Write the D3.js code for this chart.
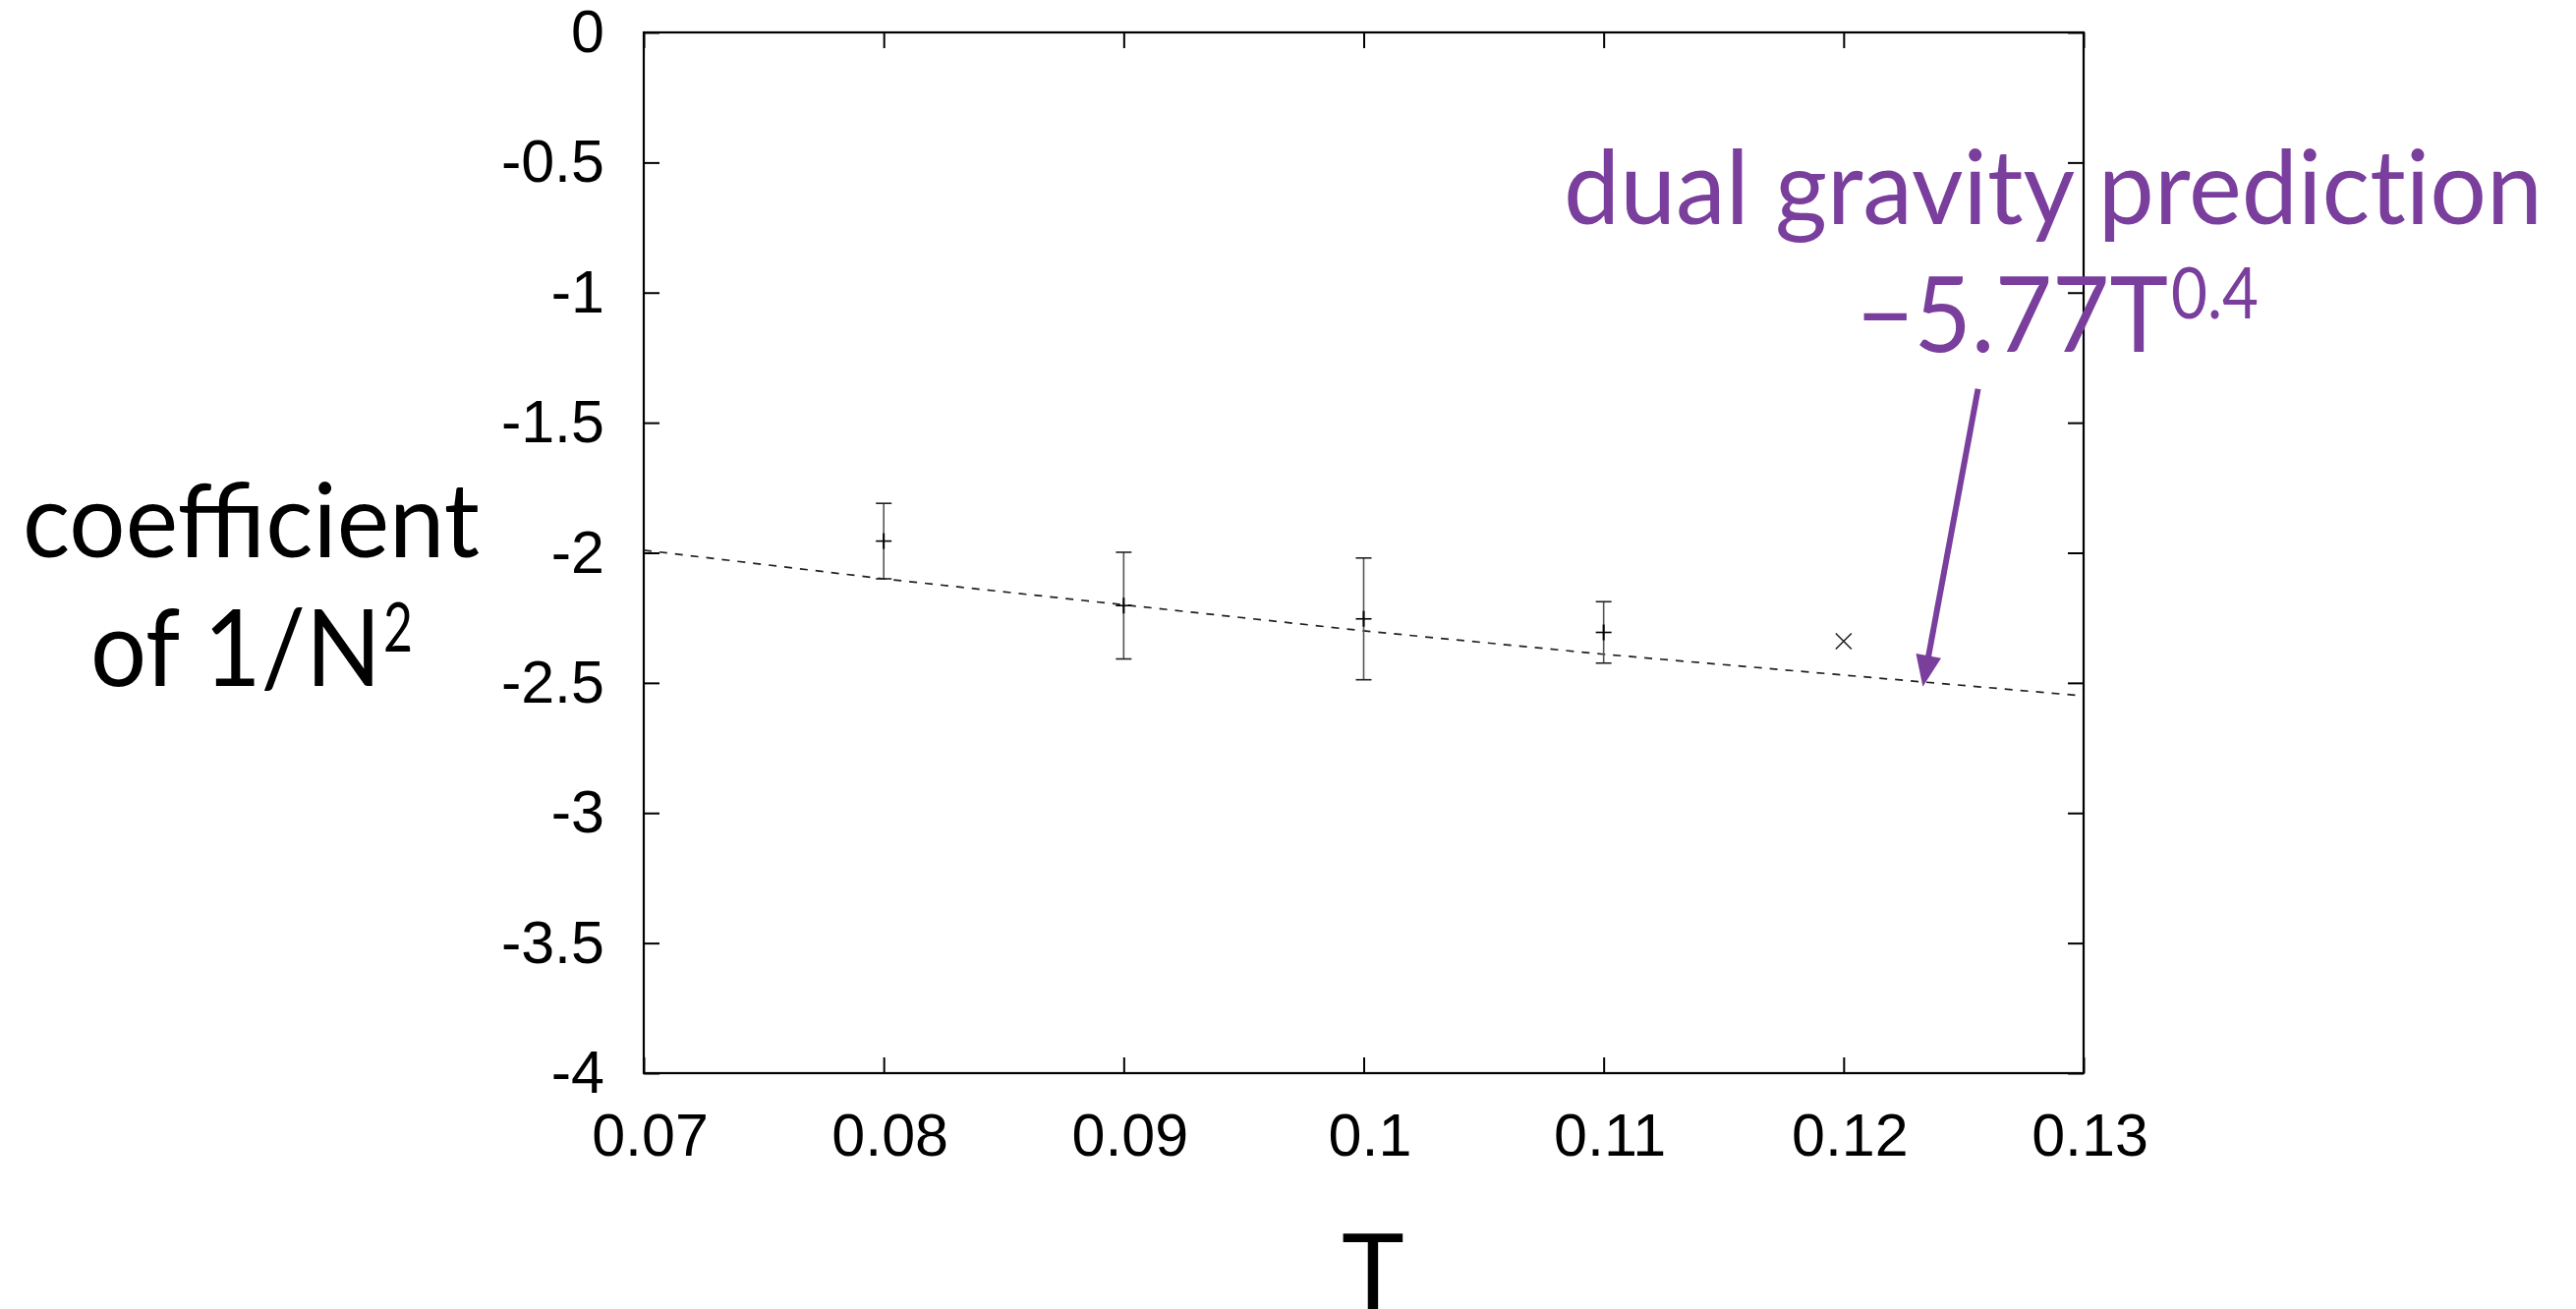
<!DOCTYPE html>
<html>
<head>
<meta charset="utf-8">
<script src="https://cdn.jsdelivr.net/npm/d3@7"></script>
<style>
  html, body { margin: 0; padding: 0; background: #ffffff; }
  svg { display: block; }
</style>
</head>
<body>
<svg id="chart"></svg>
<script>
// measured points (T, coefficient, half error bar)
const temps = [0.08, 0.09, 0.10, 0.11];
const coeffs = [-1.955, -2.203, -2.254, -2.306];
const errors = [0.145, 0.205, 0.234, 0.118];

// single point drawn as a cross
const crossT = [0.12];
const crossVal = [-2.34];

// dashed prediction curve
const curveT = [0.07, 0.08, 0.09, 0.10, 0.11, 0.12, 0.13];
const curveVal = [-1.99, -2.10, -2.20, -2.30, -2.39, -2.47, -2.55];

// arrow endpoints in data coordinates
const arrowT = [0.1256, 0.1233];
const arrowVal = [-1.37, -2.515];

const xTicks = [0.07, 0.08, 0.09, 0.1, 0.11, 0.12, 0.13];
const yTicks = [0, -0.5, -1, -1.5, -2, -2.5, -3, -3.5, -4];

const WIDTH = 2621;
const HEIGHT = 1332;
const LEFT = 655;
const RIGHT = 2120;
const TOP = 33;
const BOTTOM = 1092;
const TICK = 16;
const PURPLE = '#7a3e9d';
const TICK_FONT = '"Liberation Sans", Arial, sans-serif';
const LABEL_FONT = 'Lato, "Open Sans", sans-serif';

const svg = d3.select('#chart')
  .attr('width', WIDTH)
  .attr('height', HEIGHT)
  .attr('viewBox', `0 0 ${WIDTH} ${HEIGHT}`);

svg.append('rect')
  .attr('width', WIDTH)
  .attr('height', HEIGHT)
  .attr('fill', '#ffffff');

const x = d3.scaleLinear().domain([0.07, 0.13]).range([LEFT, RIGHT]);
const y = d3.scaleLinear().domain([-4, 0]).range([BOTTOM, TOP]);

// axes, ticks pointing into the plot on every side
const bottomAxis = svg.append('g')
  .attr('transform', `translate(0, ${BOTTOM})`)
  .call(d3.axisBottom(x).tickValues(xTicks).tickSize(-TICK).tickPadding(41)
    .tickFormat((d) => String(d)));

const leftAxis = svg.append('g')
  .attr('transform', `translate(${LEFT}, 0)`)
  .call(d3.axisLeft(y).tickValues(yTicks).tickSize(-TICK).tickPadding(40)
    .tickFormat((d) => String(d)));

const topAxis = svg.append('g')
  .attr('transform', `translate(0, ${TOP})`)
  .call(d3.axisTop(x).tickValues(xTicks).tickSize(-TICK).tickFormat(''));

const rightAxis = svg.append('g')
  .attr('transform', `translate(${RIGHT}, 0)`)
  .call(d3.axisRight(y).tickValues(yTicks).tickSize(-TICK).tickFormat(''));

[bottomAxis, leftAxis, topAxis, rightAxis].forEach((g) => {
  g.select('.domain').remove();
  g.selectAll('.tick line')
    .attr('stroke', '#000000')
    .attr('stroke-width', 2);
  g.selectAll('.tick text')
    .attr('fill', '#000000')
    .attr('font-size', 61)
    .attr('font-family', TICK_FONT);
});

bottomAxis.selectAll('.tick text').attr('dx', 6);

svg.append('rect')
  .attr('x', LEFT)
  .attr('y', TOP)
  .attr('width', RIGHT - LEFT)
  .attr('height', BOTTOM - TOP)
  .attr('fill', 'none')
  .attr('stroke', '#000000')
  .attr('stroke-width', 2.2);

// dashed curve
const curve = curveT.map((t, i) => [t, curveVal[i]]);
svg.append('path')
  .datum(curve)
  .attr('fill', 'none')
  .attr('stroke', '#222222')
  .attr('stroke-width', 1.7)
  .attr('stroke-dasharray', '8,8')
  .attr('d', d3.line().x((d) => x(d[0])).y((d) => y(d[1])));

// error bars with + markers
const points = temps.map((t, i) => ({ t, v: coeffs[i], e: errors[i] }));
const bars = svg.append('g');
points.forEach((p) => {
  const px = x(p.t);
  const hi = y(p.v + p.e);
  const lo = y(p.v - p.e);
  const py = y(p.v);
  bars.append('line')
    .attr('x1', px).attr('x2', px).attr('y1', hi).attr('y2', lo)
    .attr('stroke', '#555555').attr('stroke-width', 1.6);
  [hi, lo].forEach((cy) => {
    bars.append('line')
      .attr('x1', px - 8).attr('x2', px + 8).attr('y1', cy).attr('y2', cy)
      .attr('stroke', '#222222').attr('stroke-width', 1.6);
  });
  bars.append('line')
    .attr('x1', px - 8).attr('x2', px + 8).attr('y1', py).attr('y2', py)
    .attr('stroke', '#000000').attr('stroke-width', 1.6);
  bars.append('line')
    .attr('x1', px).attr('x2', px).attr('y1', py - 8).attr('y2', py + 8)
    .attr('stroke', '#000000').attr('stroke-width', 2);
});

// cross marker
crossT.forEach((t, i) => {
  const cx = x(t);
  const cy = y(crossVal[i]);
  svg.append('path')
    .attr('d', `M${cx - 8},${cy - 8}L${cx + 8},${cy + 8}M${cx - 8},${cy + 8}L${cx + 8},${cy - 8}`)
    .attr('stroke', '#222222')
    .attr('stroke-width', 1.6)
    .attr('fill', 'none');
});

// arrow
const ax0 = x(arrowT[0]);
const ay0 = y(arrowVal[0]);
const ax1 = x(arrowT[1]);
const ay1 = y(arrowVal[1]);
const len = Math.hypot(ax1 - ax0, ay1 - ay0);
const ux = (ax1 - ax0) / len;
const uy = (ay1 - ay0) / len;
const headLen = 32;
const headHalf = 13;
const bx = ax1 - ux * headLen;
const by = ay1 - uy * headLen;
svg.append('line')
  .attr('x1', ax0).attr('y1', ay0)
  .attr('x2', bx + ux * 4).attr('y2', by + uy * 4)
  .attr('stroke', PURPLE)
  .attr('stroke-width', 6);
svg.append('path')
  .attr('d', `M${ax1},${ay1}L${bx - uy * headHalf},${by + ux * headHalf}L${bx + uy * headHalf},${by - ux * headHalf}Z`)
  .attr('fill', PURPLE);

// text with a superscript, both parts squeezed to the widths seen in the reference
function supText(fill, base, sup) {
  const t = svg.append('text')
    .attr('fill', fill)
    .attr('font-family', LABEL_FONT);
  t.append('tspan')
    .attr('x', base.x)
    .attr('y', base.y)
    .attr('font-size', base.size)
    .attr('textLength', base.width)
    .attr('lengthAdjust', 'spacingAndGlyphs')
    .text(base.text);
  t.append('tspan')
    .attr('x', sup.x)
    .attr('y', sup.y)
    .attr('font-size', sup.size)
    .attr('textLength', sup.width)
    .attr('lengthAdjust', 'spacingAndGlyphs')
    .text(sup.text);
  return t;
}

svg.append('text')
  .attr('x', 1591)
  .attr('y', 228)
  .attr('fill', PURPLE)
  .attr('font-size', 104)
  .attr('font-family', LABEL_FONT)
  .attr('textLength', 996)
  .attr('lengthAdjust', 'spacingAndGlyphs')
  .style('font-variant-ligatures', 'none')
  .text('dual gravity prediction');

supText(PURPLE,
  { x: 1889, y: 358, size: 106, width: 317, text: '\u22125.77T' },
  { x: 2209, y: 324, size: 71, width: 89, text: '0.4' });

svg.append('text')
  .attr('x', 23)
  .attr('y', 567)
  .attr('fill', '#000000')
  .attr('font-size', 104)
  .attr('font-family', LABEL_FONT)
  .attr('textLength', 465)
  .attr('lengthAdjust', 'spacingAndGlyphs')
  .text('coefficient');

supText('#000000',
  { x: 92, y: 698, size: 108, width: 296, text: 'of 1/N' },
  { x: 390, y: 663, size: 70, width: 30, text: '2' });

svg.append('text')
  .attr('x', 1397)
  .attr('y', 1333)
  .attr('text-anchor', 'middle')
  .attr('fill', '#000000')
  .attr('font-size', 108)
  .attr('font-family', LABEL_FONT)
  .text('T');
</script>
</body>
</html>
